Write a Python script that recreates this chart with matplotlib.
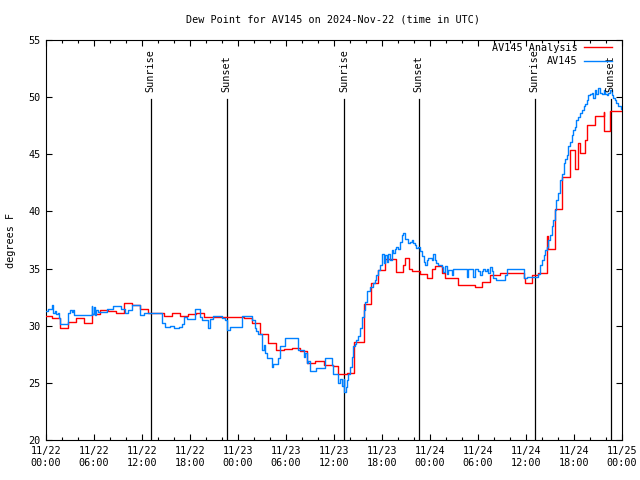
import matplotlib
matplotlib.use("Agg")
import matplotlib.pyplot as plt
from matplotlib.ticker import MultipleLocator

# hours since 2024-11-22 00:00 UTC
red_hours = [0, 0.8, 1.8, 2.8, 3.8, 4.8, 5.8, 6.8, 7.8, 8.8, 9.8, 10.8, 11.8, 12.8,
             14.8, 15.8, 16.8, 17.8, 18.8, 19.8, 24.8, 25.8, 26.8, 27.8, 28.8, 29.8,
             30.8, 31.8, 32.6, 33.6, 34.7, 35.9, 36.5, 37.6, 38.5, 39.7, 40.6, 41.5,
             42.4, 43.8, 44.6, 44.9, 45.4, 45.8, 46.7, 47.6, 48.2, 48.6, 49.5, 49.9,
             51.5, 53.6, 54.5, 55.5, 56.75, 59.7, 59.9, 60.7, 61.5, 62.6, 62.7, 63.6,
             64.5, 65.5, 66.1, 66.5, 66.75, 67.4, 67.6, 68.6, 69.7, 69.8, 70.5, 72.0]
red_vals = [30.85, 30.65, 29.8, 30.3, 30.7, 30.2, 31.0, 31.4, 31.3, 31.1, 32.0, 31.8, 31.5, 31.1,
            30.85, 31.1, 30.88, 31.0, 31.14, 30.8, 30.65, 30.2, 29.3, 28.45, 27.9, 28.0,
            28.07, 27.8, 26.75, 26.9, 26.6, 26.5, 25.8, 25.9, 28.6, 31.9, 33.7, 34.9,
            35.8, 34.67, 35.3, 35.9, 35.0, 34.75, 34.5, 34.2, 35.0, 35.2, 34.6, 34.15,
            33.56, 33.4, 33.85, 34.44, 34.6, 34.15, 33.7, 34.44, 34.64, 37.85, 36.7, 40.2,
            43.0, 45.4, 43.7, 46.0, 45.1, 46.25, 47.6, 48.35, 48.7, 47.0, 48.8, 48.8]

blue_hours = [0.0, 0.25, 0.7, 0.9, 1.1, 1.3, 1.5, 1.6, 1.8, 2.8, 3.0, 3.2, 3.4, 3.5,
              5.7, 5.8, 6.0, 6.15, 6.3, 6.5, 7.6, 8.4, 9.4, 9.9, 10.2, 10.7, 11.75, 12.2,
              14.45, 14.9, 15.5, 16.0, 16.6, 17.0, 17.2, 17.6, 18.6, 19.25, 19.5, 20.3,
              20.5, 20.9, 22.0, 22.4, 22.6, 23.0, 24.5, 25.7, 26.1, 26.3, 26.5, 26.95,
              27.2, 27.4, 27.6, 28.2, 28.4, 29.0, 29.25, 29.9, 31.5, 32.2, 32.4, 32.6,
              32.8, 33.0, 33.8, 34.9, 35.7, 35.9, 36.5, 36.75, 36.96, 37.2, 37.3, 37.5,
              37.6, 37.8, 38.0, 38.2, 38.4, 38.6, 38.8, 39.0, 39.25, 39.5, 39.7, 39.9,
              40.1, 40.5, 40.9, 41.1, 41.3, 41.5, 41.75, 42.0, 42.2, 42.4, 42.6, 42.8,
              43.0, 43.2, 43.4, 43.6, 43.8, 44.0, 44.25, 44.46, 44.67, 44.9, 45.3, 45.5,
              45.7, 45.9, 46.1, 46.3, 46.5, 46.75, 46.96, 47.2, 47.4, 47.6, 47.8, 48.2,
              48.4, 48.6, 48.8, 49.0, 49.45, 49.67, 49.9, 50.1, 50.3, 50.7, 50.9, 52.6,
              52.8, 53.4, 53.6, 54.0, 54.25, 54.45, 54.67, 54.9, 55.1, 55.3, 55.5, 55.7,
              55.9, 56.3, 57.4, 57.6, 59.7, 60.1, 61.3, 61.5, 61.75, 62.0, 62.2, 62.4,
              62.6, 62.8, 63.0, 63.2, 63.4, 63.6, 63.8, 64.0, 64.25, 64.5, 64.7, 64.9,
              65.1, 65.3, 65.5, 65.7, 65.9, 66.1, 66.3, 66.5, 66.75, 67.0, 67.2, 67.4,
              67.6, 67.8, 68.0, 68.2, 68.4, 68.6, 68.8, 69.0, 69.25, 69.5, 69.7, 69.9,
              70.1, 70.3, 70.5, 70.7, 70.9, 71.1, 71.3, 71.5, 71.9, 72.0]
blue_vals = [31.3, 31.5, 31.8, 31.1, 31.3, 31.0, 31.1, 30.7, 30.15, 31.1, 31.4, 31.2, 31.35, 30.9,
             31.7, 31.0, 31.6, 30.9, 31.4, 31.2, 31.45, 31.7, 31.5, 31.1, 31.4, 31.8, 30.9, 31.1,
             30.2, 29.85, 29.95, 29.8, 29.9, 30.15, 30.8, 30.6, 31.5, 30.8, 30.5, 29.8,
             30.6, 30.85, 30.7, 30.5, 29.6, 29.86, 30.85, 30.5, 29.8, 29.5, 29.3, 27.9,
             28.3, 27.6, 27.15, 26.4, 26.65, 27.2, 28.2, 28.9, 27.9, 27.3, 27.6, 26.7,
             26.9, 26.0, 26.3, 27.15, 26.6, 25.8, 24.96, 25.3, 24.7, 25.3, 24.2, 24.6,
             25.25, 25.8, 26.4, 27.3, 28.2, 28.4, 28.75, 29.1, 29.8, 30.8, 31.4, 32.1,
             33.0, 33.4, 33.7, 34.0, 34.4, 34.9, 35.3, 36.3, 35.5, 36.2, 35.6, 36.3,
             35.75, 36.6, 36.4, 36.7, 36.9, 36.7, 37.35, 37.9, 38.1, 37.6, 37.2, 37.35,
             37.5, 37.2, 37.05, 36.8, 36.9, 36.5, 36.1, 35.6, 35.3, 35.75, 35.9, 35.75,
             36.25, 35.75, 35.5, 35.3, 35.1, 34.7, 35.2, 34.5, 34.9, 34.4, 35.0, 34.3,
             35.0, 34.3, 35.0, 34.8, 34.4, 34.8, 35.0, 34.8, 35.0, 34.6, 35.1, 34.8,
             34.15, 34.0, 34.4, 35.0, 34.15, 34.24, 34.3, 34.5, 35.3, 35.75, 36.2, 36.6,
             36.9, 37.5, 37.9, 38.7, 39.25, 40.1, 41.0, 41.6, 42.75, 43.3, 44.2, 44.6,
             44.9, 45.7, 46.1, 46.7, 47.1, 47.4, 48.0, 48.3, 48.6, 48.9, 49.2, 49.4,
             49.75, 50.2, 50.3, 50.35, 49.9, 50.6, 50.3, 50.8, 50.4, 50.3, 50.6, 50.3,
             50.2, 50.35, 50.6, 50.2, 49.9, 49.75, 49.5, 49.2, 49.0, 49.0]

sun_hours = [13.1, 22.6, 37.25, 46.6, 61.1, 70.6]
sun_labels = ["Sunrise", "Sunset", "Sunrise", "Sunset", "Sunrise", "Sunset"]

tick_hours = list(range(0, 73, 6))
tick_labels = ["11/22\n00:00", "11/22\n06:00", "11/22\n12:00", "11/22\n18:00",
               "11/23\n00:00", "11/23\n06:00", "11/23\n12:00", "11/23\n18:00",
               "11/24\n00:00", "11/24\n06:00", "11/24\n12:00", "11/24\n18:00",
               "11/25\n00:00"]

plt.rcParams["font.family"] = ["DejaVu Sans Mono"]
plt.rcParams["font.size"] = 7.3

fig = plt.figure(figsize=(6.4, 4.8), dpi=100)
fig.patch.set_facecolor("white")
ax = fig.add_axes([46 / 640, 40 / 480, 576 / 640, 400 / 480])

ax.plot(red_hours, red_vals, drawstyle="steps-post", color="#ff0000", lw=1.0,
        label="AV145 Analysis", zorder=3)
ax.plot(blue_hours, blue_vals, drawstyle="steps-post", color="#0080ff", lw=1.0,
        label="AV145", zorder=3)

for h, lab in zip(sun_hours, sun_labels):
    ax.plot([h, h], [20, 49.8], color="black", lw=0.9, zorder=2)
    ax.text(h, 50.45, lab, rotation=90, ha="center", va="bottom", zorder=4)

ax.set_xlim(0, 72)
ax.set_ylim(20, 55)
ax.set_xticks(tick_hours)
ax.set_xticklabels(tick_labels, linespacing=1.25)
ax.xaxis.set_minor_locator(MultipleLocator(2))
ax.yaxis.set_major_locator(MultipleLocator(5))
ax.tick_params(which="both", direction="in", top=True, right=True, width=0.8)
ax.tick_params(which="major", length=4.5, pad=4)
ax.tick_params(which="minor", length=2.3)
for sp in ax.spines.values():
    sp.set_linewidth(0.8)

ax.legend(loc="upper right", bbox_to_anchor=(0.983, 0.993), frameon=False,
          markerfirst=False, handlelength=2.8, handletextpad=0.6,
          labelspacing=0.35, borderaxespad=0, borderpad=0)

fig.text(0.52, 1 - 20 / 480, "Dew Point for AV145 on 2024-Nov-22 (time in UTC)",
         ha="center", va="center")
fig.text(0.017, 0.5, "degrees F", rotation=90, ha="center", va="center")

fig.savefig("out.png", dpi=100, facecolor="white")
